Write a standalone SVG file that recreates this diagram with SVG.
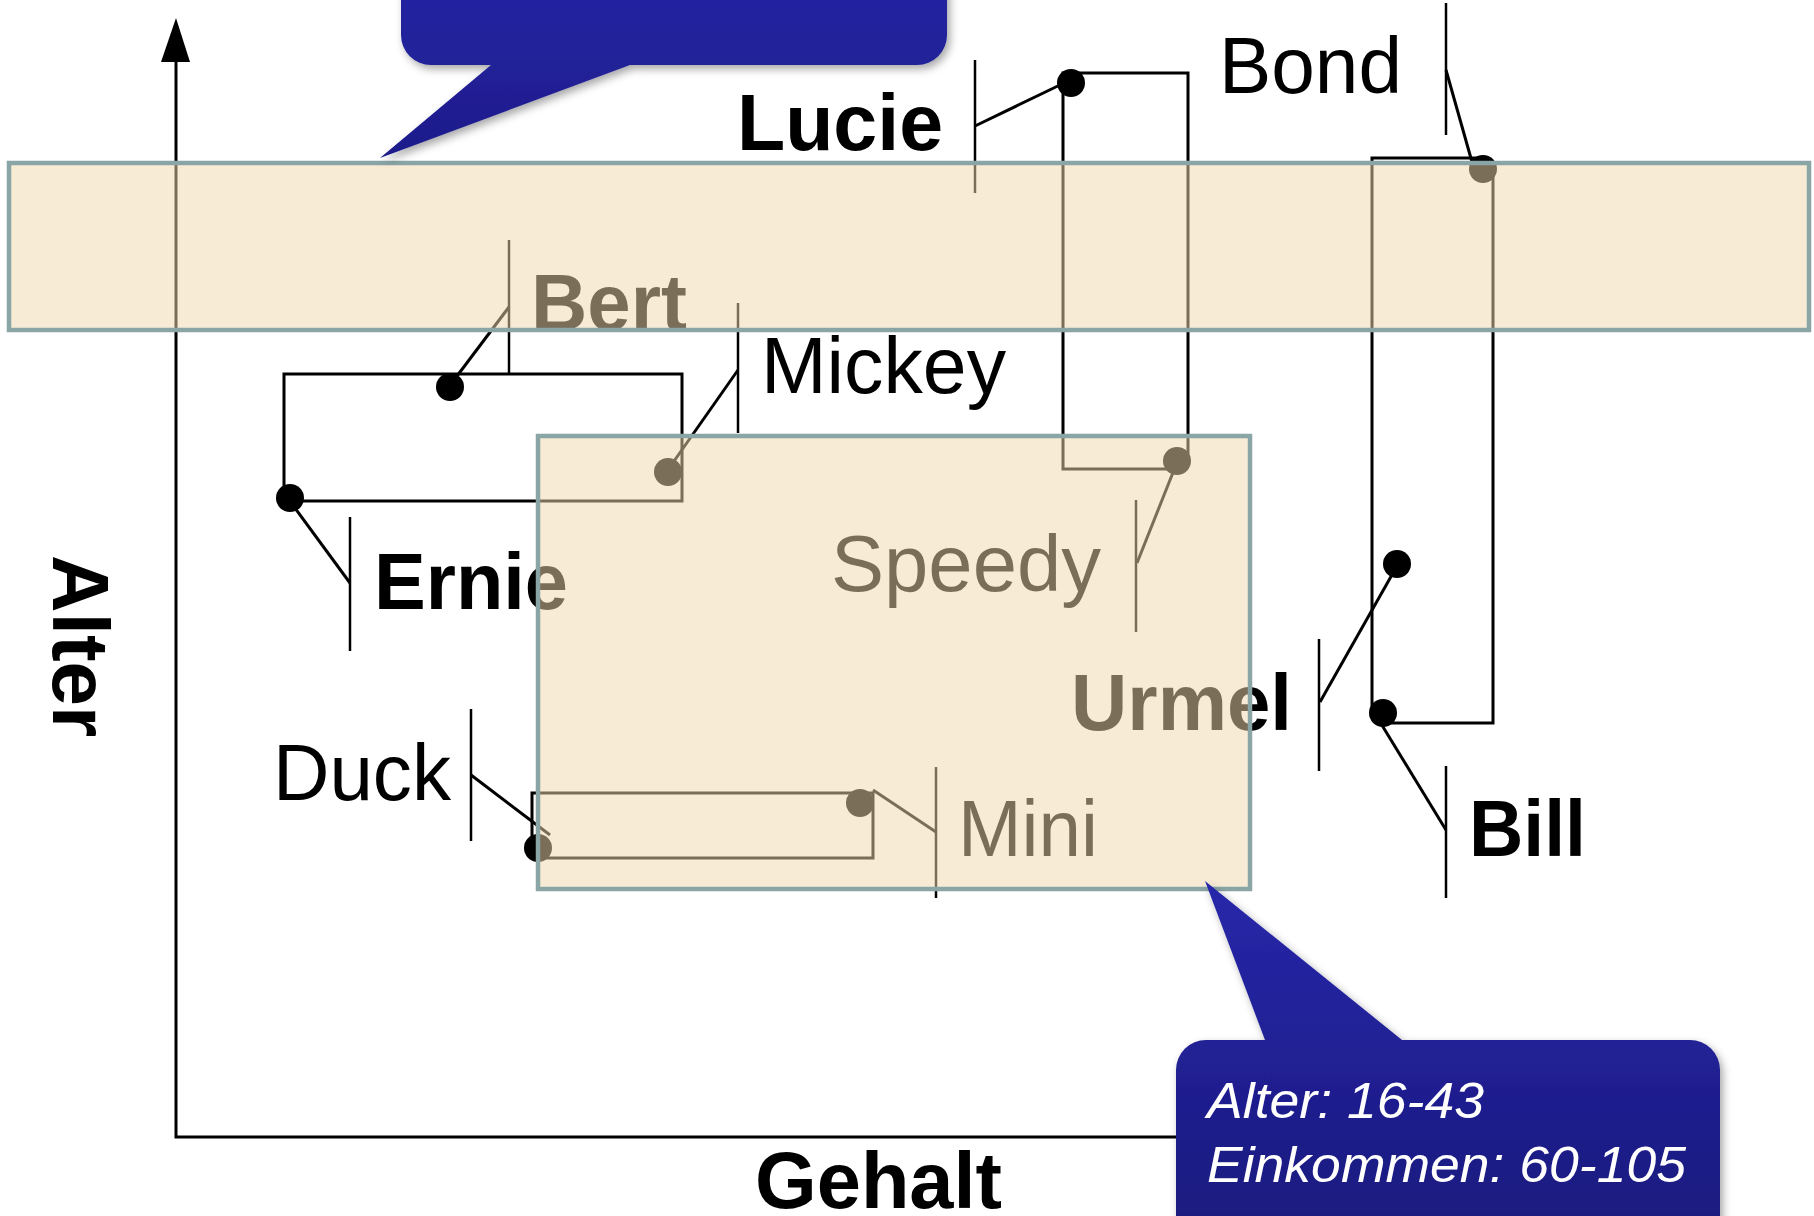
<svg xmlns="http://www.w3.org/2000/svg" width="1814" height="1216" viewBox="0 0 1814 1216">
  <style>
    .lbl { font-family: "Liberation Sans", Arial, sans-serif; font-size: 80px; fill: #000; }
    .b { font-weight: bold; }
    .wire { stroke: #000; stroke-width: 3; fill: none; stroke-linejoin: miter; }
    .bar { stroke: #000; stroke-width: 2.5; fill: none; }
    .lead { stroke: #000; stroke-width: 3; fill: none; }
    .dot { fill: #000; }
    .axis { stroke: #000; stroke-width: 3; fill: none; }
    .zone { fill: #EFD8AD; fill-opacity: 0.51; stroke: #8AA5A6; stroke-width: 4.5; }
    .note { font-family: "Liberation Sans", Arial, sans-serif; font-size: 50px; font-style: italic; fill: #fff; }
  </style>
  <defs>
    <linearGradient id="blueTop" gradientUnits="userSpaceOnUse" x1="0" y1="-20" x2="0" y2="160">
      <stop offset="0" stop-color="#2424A4"/>
      <stop offset="1" stop-color="#1E1C8A"/>
    </linearGradient>
    <linearGradient id="blueBottom" gradientUnits="userSpaceOnUse" x1="0" y1="880" x2="0" y2="1216">
      <stop offset="0" stop-color="#2727AA"/>
      <stop offset="1" stop-color="#1B1A80"/>
    </linearGradient>
    <filter id="shadow" x="-10%" y="-10%" width="130%" height="130%">
      <feDropShadow dx="3" dy="4" stdDeviation="4" flood-color="#000" flood-opacity="0.35"/>
    </filter>
  </defs>

  <rect width="1814" height="1216" fill="#fff"/>

  <!-- axes -->
  <g id="axes">
    <path class="axis" d="M176,60 V1137 H1200"/>
    <polygon points="176,18 161,62 190,62" fill="#000"/>
  </g>

  <!-- cluster brackets -->
  <g id="connectors">
    <path class="wire" d="M1177,469 H1063 V73 H1188 V461"/>
    <path class="wire" d="M1383,713 H1372 V158 H1483"/>
    <path class="wire" d="M1493,168 V723 H1388"/>
    <path class="wire" d="M290,499 H284 V374 H682 V501 H290"/>
    <path class="wire" d="M538,848 H532 V793 H873 V858 H538"/>
  </g>

  <g id="node-lucie">
    <line class="bar" x1="975" y1="60" x2="975" y2="193"/>
    <line class="lead" x1="975" y1="126" x2="1062" y2="84"/>
    <circle class="dot" cx="1071" cy="83" r="14"/>
    <text class="lbl b" x="737" y="150" textLength="206" lengthAdjust="spacingAndGlyphs">Lucie</text>
  </g>

  <g id="node-bond">
    <line class="bar" x1="1446" y1="3" x2="1446" y2="135"/>
    <line class="lead" x1="1446" y1="70" x2="1472" y2="162"/>
    <circle class="dot" cx="1483" cy="169" r="14"/>
    <text class="lbl" x="1219" y="93" textLength="183" lengthAdjust="spacingAndGlyphs">Bond</text>
  </g>

  <g id="node-bert">
    <line class="bar" x1="509" y1="240" x2="509" y2="374"/>
    <line class="lead" x1="509" y1="307" x2="454" y2="380"/>
    <circle class="dot" cx="450" cy="387" r="14"/>
    <text class="lbl b" x="531" y="330" textLength="156" lengthAdjust="spacingAndGlyphs">Bert</text>
  </g>

  <g id="node-mickey">
    <line class="bar" x1="738" y1="303" x2="738" y2="433"/>
    <line class="lead" x1="738" y1="370" x2="672" y2="464"/>
    <circle class="dot" cx="668" cy="472" r="14"/>
    <text class="lbl" x="761" y="393" textLength="245" lengthAdjust="spacingAndGlyphs">Mickey</text>
  </g>

  <g id="node-ernie">
    <line class="bar" x1="350" y1="517" x2="350" y2="651"/>
    <line class="lead" x1="350" y1="583" x2="292" y2="504"/>
    <circle class="dot" cx="290" cy="498" r="14"/>
    <text class="lbl b" x="374" y="609" textLength="194" lengthAdjust="spacingAndGlyphs">Ernie</text>
  </g>

  <g id="node-speedy">
    <line class="bar" x1="1136" y1="500" x2="1136" y2="632"/>
    <line class="lead" x1="1137" y1="563" x2="1174" y2="470"/>
    <circle class="dot" cx="1177" cy="461" r="14"/>
    <text class="lbl" x="831" y="591" textLength="270" lengthAdjust="spacingAndGlyphs">Speedy</text>
  </g>

  <g id="node-urmel">
    <line class="bar" x1="1319" y1="639" x2="1319" y2="771"/>
    <line class="lead" x1="1320" y1="702" x2="1393" y2="573"/>
    <circle class="dot" cx="1397" cy="564" r="14"/>
    <text class="lbl b" x="1071" y="730" textLength="221" lengthAdjust="spacingAndGlyphs">Urmel</text>
  </g>

  <g id="node-duck">
    <line class="bar" x1="471" y1="709" x2="471" y2="841"/>
    <line class="lead" x1="471" y1="775" x2="550" y2="835"/>
    <circle class="dot" cx="538" cy="848" r="14"/>
    <text class="lbl" x="273" y="800" textLength="178" lengthAdjust="spacingAndGlyphs">Duck</text>
  </g>

  <g id="node-mini">
    <line class="bar" x1="936" y1="767" x2="936" y2="898"/>
    <line class="lead" x1="936" y1="832" x2="873" y2="790"/>
    <circle class="dot" cx="860" cy="803" r="14"/>
    <text class="lbl" x="958" y="856" textLength="140" lengthAdjust="spacingAndGlyphs">Mini</text>
  </g>

  <g id="node-bill">
    <line class="bar" x1="1446" y1="766" x2="1446" y2="898"/>
    <line class="lead" x1="1446" y1="830" x2="1380" y2="722"/>
    <circle class="dot" cx="1383" cy="713" r="14"/>
    <text class="lbl b" x="1469" y="856" textLength="117" lengthAdjust="spacingAndGlyphs">Bill</text>
  </g>

  <!-- axis titles -->
  <text class="lbl b" transform="translate(53,555) rotate(90)" x="0" y="0" textLength="182" lengthAdjust="spacingAndGlyphs">Alter</text>
  <text class="lbl b" x="755" y="1208" textLength="247" lengthAdjust="spacingAndGlyphs">Gehalt</text>

  <!-- highlighted query regions -->
  <rect id="zone-age" class="zone" x="9" y="163" width="1800" height="167"/>
  <rect id="zone-box" class="zone" x="538" y="436" width="712" height="453"/>

  <!-- callouts -->
  <g id="callout-top" filter="url(#shadow)">
    <path d="M401,-100 H947 V35 A30,30 0 0 1 917,65 H630 L380,158 L491,65 H431 A30,30 0 0 1 401,35 Z" fill="url(#blueTop)"/>
  </g>
  <g id="callout-bottom" filter="url(#shadow)">
    <path d="M1176,1300 V1070 A30,30 0 0 1 1206,1040 H1265 L1205,881 L1402,1040 H1690 A30,30 0 0 1 1720,1070 V1300 Z" fill="url(#blueBottom)"/>
    <text class="note" x="1207" y="1118" textLength="277" lengthAdjust="spacingAndGlyphs">Alter: 16-43</text>
    <text class="note" x="1207" y="1182" textLength="479" lengthAdjust="spacingAndGlyphs">Einkommen: 60-105</text>
  </g>
</svg>
